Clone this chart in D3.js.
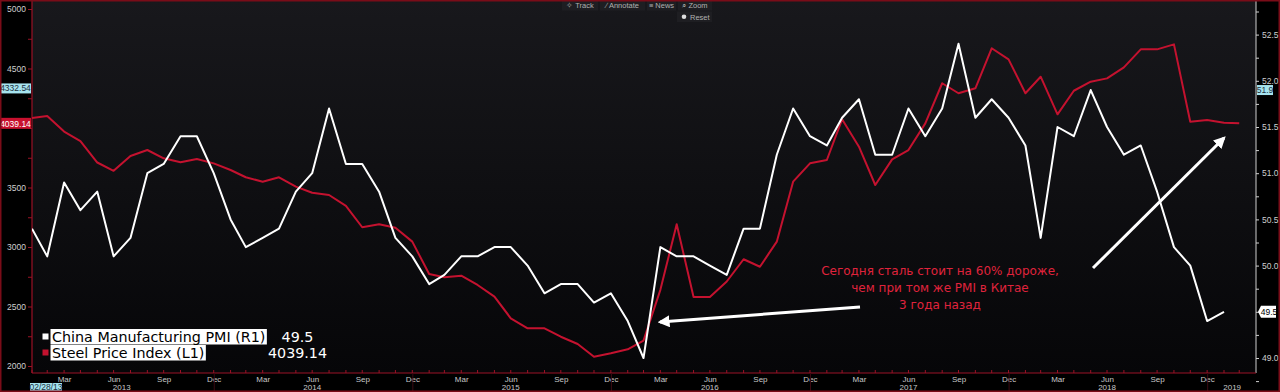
<!DOCTYPE html>
<html>
<head>
<meta charset="utf-8">
<script src="https://cdn.jsdelivr.net/npm/d3@7"></script>
<style>
  body { margin: 0; background: #000; }
  svg { display: block; }
  .tick text { font-family: "Liberation Sans", Arial, sans-serif; }
</style>
</head>
<body>
<div id="chart"></div>
<script>
var svgWidth = 1280;
var svgHeight = 392;

var plot = { left: 32, right: 1256, top: 0, bottom: 373 };

// China Manufacturing PMI, monthly Jan 2013 .. Jan 2019 (right axis)
var pmi = [
  50.4, 50.1, 50.9, 50.6, 50.8, 50.1, 50.3, 51.0, 51.1, 51.4, 51.4, 51.0,
  50.5, 50.2, 50.3, 50.4, 50.8, 51.0, 51.7, 51.1, 51.1, 50.8, 50.3, 50.1,
  49.8, 49.9, 50.1, 50.1, 50.2, 50.2, 50.0, 49.7, 49.8, 49.8, 49.6, 49.7,
  49.4, 49.0, 50.2, 50.1, 50.1, 50.0, 49.9, 50.4, 50.4, 51.2, 51.7, 51.4,
  51.3, 51.6, 51.8, 51.2, 51.2, 51.7, 51.4, 51.7, 52.4, 51.6, 51.8, 51.6,
  51.3, 50.3, 51.5, 51.4, 51.9, 51.5, 51.2, 51.3, 50.8, 50.2, 50.0, 49.4,
  49.5
];

// Steel Price Index, monthly Jan 2013 .. Feb 2019 (left axis)
var steel = [
  4085, 4100, 3970, 3890, 3710, 3640, 3765, 3815, 3745, 3712, 3740, 3703,
  3647, 3586, 3549, 3586, 3507, 3456, 3437, 3345, 3166, 3191, 3162, 3045,
  2773, 2745, 2759, 2681, 2583, 2401, 2317, 2317, 2246, 2185, 2078, 2107,
  2140, 2213, 2640, 3191, 2580, 2580, 2710, 2897, 2834, 3045, 3549, 3703,
  3731, 4073, 3843, 3521, 3736, 3815, 4039, 4376, 4292, 4334, 4670, 4577,
  4292, 4431, 4115, 4313, 4389, 4417, 4510, 4661, 4661, 4703, 4053, 4067,
  4045, 4039.14
];

var firstMonth = new Date(2013, 0, 1);
var leftTicks = [2000, 2500, 3000, 3500, 4000, 4500, 5000];
var rightTicks = [49.0, 49.5, 50.0, 50.5, 51.0, 51.5, 52.0, 52.5];
var monthTickNames = ["Mar", "Jun", "Sep", "Dec"];
var yearLabels = [
  { year: "2013", date: new Date(2013, 6, 15) },
  { year: "2014", date: new Date(2014, 5, 30) },
  { year: "2015", date: new Date(2015, 5, 30) },
  { year: "2016", date: new Date(2016, 5, 30) },
  { year: "2017", date: new Date(2017, 5, 30) },
  { year: "2018", date: new Date(2018, 5, 30) },
  { year: "2019", date: new Date(2019, 1, 15) }
];
var noteLines = [
  "Сегодня сталь стоит на 60% дороже,",
  "чем при том же PMI в Китае",
  "3 года назад"
];

var RED = "#c4122f";
var AXRED = "#9a1226";

// month-end date for point i
function monthEnd(i) {
  return d3.timeDay.offset(d3.timeMonth.offset(firstMonth, i + 1), -1);
}
var dates = steel.map(function (d, i) { return monthEnd(i); });

var svg = d3.select("#chart").append("svg")
  .attr("width", svgWidth)
  .attr("height", svgHeight);

var defs = svg.append("defs");
var grad = defs.append("linearGradient")
  .attr("id", "bg").attr("x1", 0).attr("y1", 0).attr("x2", 0).attr("y2", 1);
grad.append("stop").attr("offset", "0%").attr("stop-color", "#18181c");
grad.append("stop").attr("offset", "100%").attr("stop-color", "#060608");

defs.append("marker")
  .attr("id", "arrow")
  .attr("viewBox", "0 0 10 10")
  .attr("refX", 8).attr("refY", 5)
  .attr("markerWidth", 4).attr("markerHeight", 4)
  .attr("orient", "auto-start-reverse")
  .append("path")
  .attr("d", "M0,0 L10,5 L0,10 z")
  .attr("fill", "#fff");

defs.append("clipPath").attr("id", "clip")
  .append("rect")
  .attr("x", plot.left).attr("y", plot.top)
  .attr("width", plot.right - plot.left)
  .attr("height", plot.bottom - plot.top);

svg.append("rect").attr("width", svgWidth).attr("height", svgHeight).attr("fill", "#000");

svg.append("rect")
  .attr("x", plot.left).attr("y", plot.top)
  .attr("width", plot.right - plot.left)
  .attr("height", plot.bottom - plot.top)
  .attr("fill", "url(#bg)");

// scales
var xScale = d3.scaleTime()
  .domain([dates[0], dates[72]])
  .range([32, 1224]);

var yLeft = d3.scaleLinear().domain([2000, 5000]).range([366, 9]);
var yRight = d3.scaleLinear().domain([49, 52.5]).range([358, 34.6]);

// left axis
var minorLeft = d3.range(2000, 5001, 250);
var leftAxis = svg.append("g")
  .attr("transform", `translate(${plot.left},0)`)
  .call(d3.axisLeft(yLeft).tickValues(minorLeft).tickSize(4)
    .tickFormat(function (d) { return leftTicks.indexOf(d) >= 0 && d !== 4000 ? d : ""; }));
leftAxis.select(".domain").remove();
leftAxis.selectAll("line").attr("stroke", AXRED);
leftAxis.selectAll("text").attr("fill", "#cfcfcf").attr("font-size", 8.5).attr("x", -6);
svg.append("line")
  .attr("x1", plot.left).attr("x2", plot.left)
  .attr("y1", 0).attr("y2", plot.bottom)
  .attr("stroke", AXRED).attr("stroke-width", 1.2);

// right axis
var minorRight = d3.range(48.75, 52.8, 0.25);
var rightAxis = svg.append("g")
  .attr("transform", `translate(${plot.right},0)`)
  .call(d3.axisRight(yRight).tickValues(minorRight)
    .tickSize(3)
    .tickFormat(function (d) {
      var k = rightTicks.find(function (t) { return Math.abs(t - d) < 1e-6; });
      return k !== undefined && Math.abs(k - 49.5) > 1e-6 ? d3.format(".1f")(k) : "";
    }));
rightAxis.select(".domain").remove();
rightAxis.selectAll("line").attr("stroke", "#cfcfcf");
rightAxis.selectAll("text").attr("fill", "#cfcfcf").attr("font-size", 8.5).attr("x", 6);
svg.append("line")
  .attr("x1", plot.right).attr("x2", plot.right)
  .attr("y1", 0).attr("y2", plot.bottom)
  .attr("stroke", "#cfcfcf").attr("stroke-width", 1);

// bottom axis
var quarterDates = dates.filter(function (d) { return [2, 5, 8, 11].indexOf(d.getMonth()) >= 0; });
var bottomAxis = svg.append("g")
  .attr("transform", `translate(0,${plot.bottom})`)
  .call(d3.axisBottom(xScale).tickValues(quarterDates).tickSize(0)
    .tickFormat(function (d) { return monthTickNames[[2, 5, 8, 11].indexOf(d.getMonth())]; }));
bottomAxis.select(".domain").remove();
bottomAxis.selectAll("text").attr("fill", "#c8c8c8").attr("font-size", 8).attr("y", 3);

svg.append("line")
  .attr("x1", plot.left).attr("x2", plot.right)
  .attr("y1", plot.bottom).attr("y2", plot.bottom)
  .attr("stroke", AXRED).attr("stroke-width", 1.2);

svg.append("g").selectAll("line")
  .data(dates)
  .enter().append("line")
  .attr("x1", function (d) { return xScale(d); })
  .attr("x2", function (d) { return xScale(d); })
  .attr("y1", plot.bottom - 3).attr("y2", plot.bottom)
  .attr("stroke", AXRED);

// year separators
svg.append("g").selectAll("line")
  .data(d3.range(2014, 2020).map(function (y) { return new Date(y, 0, 1); }))
  .enter().append("line")
  .attr("x1", function (d) { return xScale(d); })
  .attr("x2", function (d) { return xScale(d); })
  .attr("y1", plot.bottom).attr("y2", svgHeight)
  .attr("stroke", "#3a0a12");

svg.append("g").selectAll("text")
  .data(yearLabels)
  .enter().append("text")
  .attr("x", function (d) { return xScale(d.date); })
  .attr("y", 390)
  .attr("text-anchor", "middle")
  .attr("font-family", "Liberation Sans, Arial, sans-serif")
  .attr("font-size", 8)
  .attr("fill", "#c8c8c8")
  .text(function (d) { return d.year; });

// lines
var chartGroup = svg.append("g").attr("clip-path", "url(#clip)");

var steelLine = d3.line()
  .x(function (d, i) { return xScale(dates[i]); })
  .y(function (d) { return yLeft(d); });

var pmiLine = d3.line()
  .x(function (d, i) { return xScale(dates[i]); })
  .y(function (d) { return yRight(d); });

chartGroup.append("path")
  .datum(steel)
  .attr("d", steelLine)
  .attr("fill", "none")
  .attr("stroke", RED)
  .attr("stroke-width", 2)
  .attr("stroke-linejoin", "round");

chartGroup.append("path")
  .datum(pmi)
  .attr("d", pmiLine)
  .attr("fill", "none")
  .attr("stroke", "#fff")
  .attr("stroke-width", 2)
  .attr("stroke-linejoin", "round");

// annotation arrows (drawn by hand on the original)
svg.append("line")
  .attr("x1", 860).attr("y1", 307).attr("x2", 660).attr("y2", 322)
  .attr("stroke", "#fff").attr("stroke-width", 3)
  .attr("marker-end", "url(#arrow)");
svg.append("line")
  .attr("x1", 1093).attr("y1", 268).attr("x2", 1224).attr("y2", 138)
  .attr("stroke", "#fff").attr("stroke-width", 3)
  .attr("marker-end", "url(#arrow)");

svg.append("g").selectAll("text")
  .data(noteLines)
  .enter().append("text")
  .attr("x", 940)
  .attr("y", function (d, i) { return 275 + i * 17; })
  .attr("text-anchor", "middle")
  .attr("font-family", "DejaVu Sans, sans-serif")
  .attr("font-size", 12)
  .attr("fill", "#e0233c")
  .text(function (d) { return d; });

// legend
var legend = svg.append("g").attr("font-family", "DejaVu Sans, sans-serif").attr("font-size", 14.3);
var legendItems = [
  { name: "China Manufacturing PMI (R1)", value: d3.format(".1f")(pmi[pmi.length - 1]), color: "#fff", y: 329 },
  { name: "Steel Price Index (L1)", value: d3.format(".2f")(steel[steel.length - 1]), color: RED, y: 345 }
];
legendItems.forEach(function (item) {
  var box = legend.append("rect")
    .attr("x", 50.5).attr("y", item.y)
    .attr("height", 15.5)
    .attr("fill", "#fff");
  var label = legend.append("text")
    .attr("x", 52).attr("y", item.y + 13)
    .attr("fill", "#000")
    .text(item.name);
  box.attr("width", label.node().getComputedTextLength() + 3);
  legend.append("rect")
    .attr("x", 42.5).attr("y", item.y + 4.5)
    .attr("width", 6).attr("height", 6)
    .attr("fill", item.color);
  legend.append("text")
    .attr("x", 297.5).attr("y", item.y + 13)
    .attr("text-anchor", "middle")
    .attr("fill", "#fff")
    .text(item.value);
});

// last-value / crosshair tags on the axes
function tag(x, y, w, h, bg, fg, txt, anchor) {
  svg.append("rect").attr("x", x).attr("y", y).attr("width", w).attr("height", h).attr("fill", bg);
  svg.append("text")
    .attr("x", anchor === "middle" ? x + w / 2 : x + 1)
    .attr("y", y + h - 2)
    .attr("text-anchor", anchor || "start")
    .attr("font-family", "Liberation Sans, Arial, sans-serif")
    .attr("font-size", 8.5)
    .attr("fill", fg)
    .text(txt);
}
tag(0, yLeft(4039.14) - 5.5, 31, 11, "#c8102e", "#fff", "4039.14", "middle");
tag(0, yLeft(4332.54) - 5, 31, 10, "#a6e3ee", "#203040", "4332.54", "middle");
tag(1257, yRight(51.9) - 5, 16, 10, "#a6e3ee", "#203040", "51.9", "middle");
svg.append("path")
  .attr("d", `M1258,${yRight(49.5)} l3,-6 h15 v12 h-15 z`)
  .attr("fill", "#fff");
svg.append("text")
  .attr("x", 1269).attr("y", yRight(49.5) + 3)
  .attr("text-anchor", "middle")
  .attr("font-family", "Liberation Sans, Arial, sans-serif")
  .attr("font-size", 8.5).attr("fill", "#000")
  .text("49.5");
tag(30, 383, 32, 9, "#a6e3ee", "#203040", "02/28/13", "middle");

// toolbar
var toolbar = svg.append("g")
  .attr("font-family", "Liberation Sans, Arial, sans-serif")
  .attr("font-size", 7.5).attr("fill", "#b0b0b0");
var tools = [
  { label: "\u2727 Track", x: 562, w: 36 },
  { label: "\u2215 Annotate", x: 600, w: 45 },
  { label: "\u2261 News", x: 647, w: 29 },
  { label: "\u2315 Zoom", x: 678, w: 34 }
];
tools.forEach(function (t) {
  toolbar.append("rect").attr("x", t.x).attr("y", 0).attr("width", t.w).attr("height", 10.5).attr("fill", "#1e1e22");
  toolbar.append("text").attr("x", t.x + t.w / 2).attr("y", 8).attr("text-anchor", "middle").text(t.label);
});
toolbar.append("rect").attr("x", 677).attr("y", 11.5).attr("width", 35).attr("height", 10.5).attr("fill", "#1e1e22");
toolbar.append("circle").attr("cx", 684).attr("cy", 16.8).attr("r", 2.3).attr("fill", "#ddd");
toolbar.append("text").attr("x", 690).attr("y", 19.5).text("Reset");

// outer red frame
svg.append("rect")
  .attr("x", 0.75).attr("y", 0.75)
  .attr("width", svgWidth - 1.5).attr("height", svgHeight - 1.5)
  .attr("fill", "none")
  .attr("stroke", "#7a0c18")
  .attr("stroke-width", 1.5);
</script>
</body>
</html>
